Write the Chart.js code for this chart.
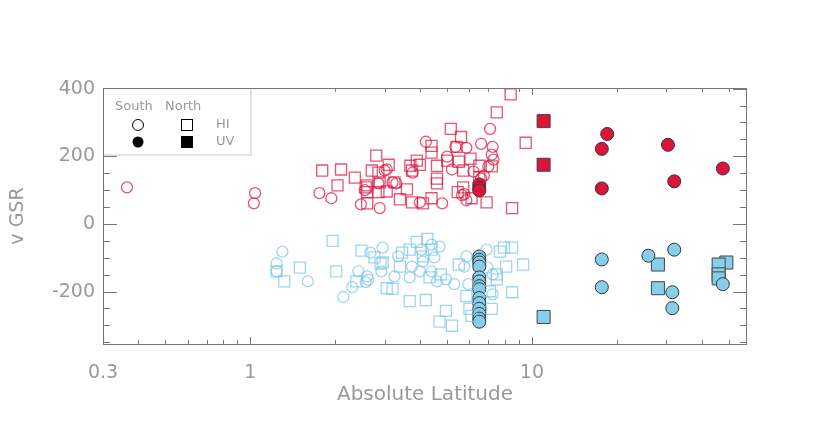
<!DOCTYPE html>
<html>
<head>
<meta charset="utf-8">
<script src="https://cdn.jsdelivr.net/npm/chart.js@4/dist/chart.umd.min.js"></script>
<style>
  html, body { margin: 0; padding: 0; background: #fff; }
</style>
</head>
<body>
<canvas id="myChart" width="830" height="443"></canvas>
<script>
// [absolute latitude, v GSR]
const hiSouth = [
  [0.365,108],[1.04,91],[1.03,61],[1.76,91],[1.94,76],[2.47,58],[2.88,47],
  [7.1,281],[4.2,243],[5.35,228],[5.85,225],[6.6,237],[7.25,228],[7.2,205],[7.3,190],
  [5.0,199],[5.2,161],[6.2,155],[7.0,170],[6.75,143],[6.6,134],[3.77,152],[3.05,161],
  [2.85,120],[3.3,120],[3.0,158],[3.2,123],[4.0,64],[4.8,61],[5.65,85],[5.85,70],
  [2.55,100],[5.75,88],
  [1.3,-82],[1.24,-117],[1.24,-140],[1.6,-170],[2.14,-216],[2.3,-187],[2.42,-140],
  [2.57,-172],[2.6,-155],[2.62,-165],[2.67,-85],[2.92,-140],[2.95,-70],[3.25,-155],
  [3.35,-96],[3.68,-158],[3.75,-126],[4.05,-76],[4.1,-111],[4.0,-140],[4.4,-61],
  [4.5,-99],[4.4,-140],[4.7,-67],[4.6,-170],[4.95,-164],[5.3,-178],[5.85,-96],
  [5.75,-126],[5.95,-178],[6.9,-76],[6.95,-129],[7.25,-149],[7.25,-208]
];
const hiNorth = [
  [8.4,383],[7.5,330],[5.15,281],[5.6,257],[9.5,240],[2.8,202],[3.1,175],[3.9,187],
  [4.4,231],[4.4,211],[5.4,228],[5.5,184],[6.05,193],[5.7,158],[6.5,172],[7.2,170],
  [4.6,172],[5.0,187],[3.7,172],[3.75,158],[4.0,175],[2.7,158],[1.8,158],[2.1,161],
  [2.35,137],[2.04,114],[2.6,114],[2.85,152],[2.88,123],[3.25,123],[3.05,96],[2.6,94],
  [2.85,94],[3.6,102],[3.4,73],[3.75,64],[4.1,61],[4.4,76],[4.6,134],[4.6,120],
  [5.45,94],[5.7,108],[6.9,64],[8.5,47],[6.5,137],[6.1,76],[2.57,108],[2.6,61],
  [1.24,-140],[1.32,-170],[1.5,-129],[1.96,-50],[2.02,-140],[2.38,-170],[2.48,-79],
  [2.76,-99],[2.9,-117],[3.05,-190],[3.2,-192],[2.95,-114],[3.4,-126],[3.46,-85],
  [3.68,-76],[3.68,-228],[3.9,-53],[4.25,-44],[4.1,-96],[4.2,-225],[4.4,-76],
  [4.33,-158],[4.75,-149],[4.95,-257],[4.7,-289],[5.2,-301],[5.5,-120],[5.85,-213],
  [6.0,-251],[6.1,-272],[7.1,-199],[7.2,-251],[7.5,-149],[7.5,-164],[7.7,-82],
  [7.95,-70],[8.5,-70],[8.1,-126],[8.5,-202],[9.3,-120]
];
const uvSouth = [
  [6.5,117],[6.5,106],[6.5,99],
  [18.5,266],[17.7,222],[17.7,105],[30.4,234],[32,126],[47.6,164],
  [6.5,-96],[6.5,-106],[6.5,-114],[6.5,-126],[6.5,-158],[6.5,-170],[6.5,-184],
  [6.5,-193],[6.5,-219],[6.5,-234],[6.5,-251],[6.5,-266],[6.5,-280],[6.5,-289],
  [17.7,-105],[17.7,-187],[25.9,-94],[32,-76],[31.5,-202],[31.5,-249],[47.6,-178]
];
const uvNorth = [
  [11,304],[11,175],
  [11,-275],[28,-120],[28,-190],[49,-114],[46,-120],[46,-149],[46,-161]
];

const xTickLabels = [0.3, 1, 10];
const yTickLabels = [-200, 0, 200, 400];

const redLine = 'rgba(220,20,60,0.72)';
const blueLine = 'rgba(120,195,232,0.7)';
const redFill = '#DC143C';
const blueFill = '#87CEEB';
const grey = '#999';

const toPts = arr => arr.map(p => ({x: p[0], y: p[1]}));
const lineCol = c => (c.raw && c.raw.y > 0) ? redLine : blueLine;
const fillCol = c => (c.raw && c.raw.y > 0) ? redFill : blueFill;

// inward IDL style ticks, frame and the little key box
const frame = {
  id: 'frame',
  afterDraw(chart) {
    const {ctx, chartArea: a, scales: {x, y}} = chart;
    ctx.save();
    ctx.strokeStyle = '#777';
    ctx.lineWidth = 1;
    ctx.strokeRect(a.left + 0.5, a.top + 0.5, a.right - a.left - 1, a.bottom - a.top);
    ctx.beginPath();
    x.ticks.forEach(t => {
      const px = Math.round(x.getPixelForValue(t.value)) + 0.5;
      const len = xTickLabels.includes(t.value) ? 7 : 4;
      ctx.moveTo(px, a.bottom); ctx.lineTo(px, a.bottom - len);
      ctx.moveTo(px, a.top); ctx.lineTo(px, a.top + len);
    });
    y.ticks.forEach(t => {
      const py = Math.round(y.getPixelForValue(t.value)) + 0.5;
      const len = yTickLabels.includes(t.value) ? 14 : 7;
      ctx.moveTo(a.left, py); ctx.lineTo(a.left + len, py);
      ctx.moveTo(a.right, py); ctx.lineTo(a.right - len, py);
    });
    ctx.stroke();

    // key
    const L = a.left, T = a.top;
    ctx.fillStyle = '#fff';
    ctx.fillRect(L + 1, T + 1, 146, 66);
    ctx.strokeStyle = '#e2e2e2';
    ctx.lineWidth = 2;
    ctx.beginPath();
    ctx.moveTo(L + 148, T + 1); ctx.lineTo(L + 148, T + 67); ctx.lineTo(L + 1, T + 67);
    ctx.stroke();
    ctx.fillStyle = grey;
    ctx.font = '13px "DejaVu Sans"';
    ctx.textBaseline = 'middle';
    ctx.fillText('South', L + 12, T + 19);
    ctx.fillText('North', L + 62, T + 19);
    ctx.fillText('HI', L + 113, T + 37);
    ctx.fillText('UV', L + 113, T + 54);
    ctx.strokeStyle = '#000';
    ctx.fillStyle = '#000';
    ctx.lineWidth = 1;
    ctx.beginPath(); ctx.arc(L + 35, T + 37, 5.5, 0, Math.PI * 2); ctx.stroke();
    ctx.strokeRect(L + 78.5, T + 31.5, 11, 11);
    ctx.beginPath(); ctx.arc(L + 35, T + 54, 5.5, 0, Math.PI * 2); ctx.fill();
    ctx.fillRect(L + 78, T + 48, 12, 12);
    ctx.restore();
  }
};

const ctx = document.getElementById('myChart').getContext('2d');
const myChart = new Chart(ctx, {
  type: 'scatter',
  data: {
    datasets: [
      {
        label: 'HI South',
        data: toPts(hiSouth),
        pointStyle: 'circle',
        pointRadius: 5.5,
        pointBorderWidth: 1.3,
        pointBackgroundColor: 'rgba(0,0,0,0)',
        pointBorderColor: lineCol
      },
      {
        label: 'HI North',
        data: toPts(hiNorth),
        pointStyle: 'rect',
        pointRadius: 7.8,
        pointBorderWidth: 1.3,
        pointBackgroundColor: 'rgba(0,0,0,0)',
        pointBorderColor: lineCol
      },
      {
        label: 'UV South',
        data: toPts(uvSouth),
        pointStyle: 'circle',
        pointRadius: 6.5,
        pointBorderWidth: 1,
        pointBackgroundColor: fillCol,
        pointBorderColor: '#333'
      },
      {
        label: 'UV North',
        data: toPts(uvNorth),
        pointStyle: 'rect',
        pointRadius: 9.2,
        pointBorderWidth: 1,
        pointBackgroundColor: fillCol,
        pointBorderColor: '#444'
      }
    ]
  },
  options: {
    responsive: false,
    animation: false,
    devicePixelRatio: 1,
    layout: { padding: { top: 88, right: 83, left: 0, bottom: 0 } },
    plugins: {
      legend: { display: false },
      tooltip: { enabled: false }
    },
    scales: {
      x: {
        type: 'logarithmic',
        min: 0.3,
        max: 58,
        afterFit: s => { s.height = 99; },
        afterBuildTicks: s => {
          const t = [];
          [0.1, 1, 10].forEach(d => {
            for (let k = 1; k < 10; k++) {
              const v = +(k * d).toFixed(2);
              if (v >= 0.3 && v <= 58) t.push({value: v});
            }
          });
          s.ticks = t;
        },
        grid: { display: false, drawTicks: false },
        border: { display: false },
        ticks: {
          autoSkip: false,
          maxRotation: 0,
          padding: 18,
          color: grey,
          font: { family: 'DejaVu Sans', size: 19 },
          callback: v => xTickLabels.includes(v) ? String(v) : ''
        },
        title: {
          display: true,
          text: 'Absolute Latitude',
          color: grey,
          font: { family: 'DejaVu Sans', size: 20 },
          padding: { top: 0, bottom: 36 }
        }
      },
      y: {
        min: -355,
        max: 402,
        afterFit: s => { s.width = 103; },
        afterBuildTicks: s => {
          const t = [];
          for (let v = -350; v <= 400; v += 50) t.push({value: v});
          s.ticks = t;
        },
        grid: { display: false, drawTicks: false },
        border: { display: false },
        ticks: {
          autoSkip: false,
          padding: 8,
          color: grey,
          font: { family: 'DejaVu Sans', size: 19 },
          callback: v => yTickLabels.includes(v) ? String(v) : ''
        },
        title: {
          display: true,
          text: 'v GSR',
          color: grey,
          font: { family: 'DejaVu Sans', size: 19 },
          padding: { top: 7, bottom: 0 }
        }
      }
    }
  },
  plugins: [frame]
});
</script>
</body>
</html>
